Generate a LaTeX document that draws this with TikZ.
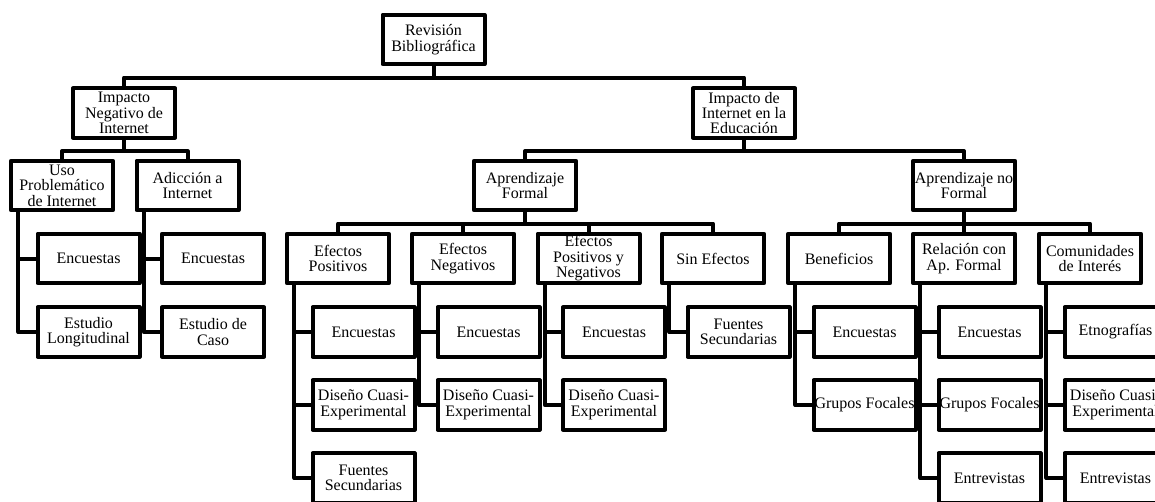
\documentclass[tikz,border=0pt]{standalone}
\usepackage{fontspec}
\setmainfont{Liberation Serif}

\begin{document}
\begin{tikzpicture}[x=0.75pt,y=-0.75pt,
	box/.style={draw, line width=3pt, line join=round, minimum width=76.5pt, minimum height=37pt, inner xsep=0pt, inner ysep=1pt, align=center, font=\fontsize{12}{11.6}\selectfont},
	link/.style={line width=3pt, line join=round}]
	\useasboundingbox (0,0) rectangle (1155,501);
	\clip (0,0) rectangle (1155,501);

	\node[box] (rev) at (433.5,39.5) {Revisión\\Bibliográfica};

	\node[box] (neg) at (124,113) {Impacto\\Negativo de\\Internet};
	\node[box] (edu) at (744,113) {Impacto de\\Internet en la\\Educación};

	\node[box] (uso) at (62,185.5) {Uso\\Problemático\\de Internet};
	\node[box] (adic) at (187.5,185.5) {Adicción a\\Internet};
	\node[box] (af) at (525,185.5) {Aprendizaje\\Formal};
	\node[box] (anf) at (964,185.5) {Aprendizaje no\\Formal};

	\node[box] (uso1) at (88.5,258.5) {Encuestas};
	\node[box] (uso2) at (88.5,332) {Estudio\\Longitudinal};
	\node[box] (adic1) at (213,258.5) {Encuestas};
	\node[box] (adic2) at (213,332) {Estudio de\\Caso};

	\node[box] (ep) at (338,258.5) {Efectos\\Positivos};
	\node[box] (en) at (463,258.5) {Efectos\\Negativos};
	\node[box] (epn) at (588.5,258.5) {Efectos\\Positivos y\\Negativos};
	\node[box] (se) at (713,258.5) {Sin Efectos};
	\node[box] (ben) at (839,258.5) {Beneficios};
	\node[box] (rel) at (964,258.5) {Relación con\\Ap. Formal};
	\node[box] (com) at (1090,258.5) {Comunidades\\de Interés};

	\node[box] (ep1) at (363.5,332) {Encuestas};
	\node[box] (ep2) at (363.5,405) {Diseño Cuasi-\\Experimental};
	\node[box] (ep3) at (363.5,478) {Fuentes\\Secundarias};
	\node[box] (en1) at (488.5,332) {Encuestas};
	\node[box] (en2) at (488.5,405) {Diseño Cuasi-\\Experimental};
	\node[box] (epn1) at (614,332) {Encuestas};
	\node[box] (epn2) at (614,405) {Diseño Cuasi-\\Experimental};
	\node[box] (se1) at (738.5,332) {Fuentes\\Secundarias};
	\node[box] (ben1) at (864.5,332) {Encuestas};
	\node[box] (ben2) at (864.5,405) {Grupos Focales};
	\node[box] (rel1) at (989.5,332) {Encuestas};
	\node[box] (rel2) at (989.5,405) {Grupos Focales};
	\node[box] (rel3) at (989.5,478) {Entrevistas};
	\node[box] (com1) at (1115.5,332) {Etnografías};
	\node[box] (com2) at (1115.5,405) {Diseño Cuasi-\\Experimental};
	\node[box] (com3) at (1115.5,478) {Entrevistas};

	% buses
	\draw[link] (rev.south) -- ++(0,11.5) -| (neg.north);
	\draw[link] (rev.south) -- ++(0,11.5) -| (edu.north);
	\draw[link] (neg.south) -- ++(0,11.5) -| (uso.north);
	\draw[link] (neg.south) -- ++(0,11.5) -| (adic.north);
	\draw[link] (edu.south) -- ++(0,11.5) -| (af.north);
	\draw[link] (edu.south) -- ++(0,11.5) -| (anf.north);
	\draw[link] (af.south) -- ++(0,11.5) -| (ep.north);
	\draw[link] (af.south) -- ++(0,11.5) -| (en.north);
	\draw[link] (af.south) -- ++(0,11.5) -| (epn.north);
	\draw[link] (af.south) -- ++(0,11.5) -| (se.north);
	\draw[link] (anf.south) -- ++(0,11.5) -| (ben.north);
	\draw[link] (anf.south) -- ++(0,11.5) -| (rel.north);
	\draw[link] (anf.south) -- ++(0,11.5) -| (com.north);

	% lists
	\draw[link] ([xshift=7pt]uso.south west) |- (uso1.west);
	\draw[link] ([xshift=7pt]uso.south west) |- (uso2.west);
	\draw[link] ([xshift=7pt]adic.south west) |- (adic1.west);
	\draw[link] ([xshift=7pt]adic.south west) |- (adic2.west);
	\draw[link] ([xshift=7pt]ep.south west) |- (ep1.west);
	\draw[link] ([xshift=7pt]ep.south west) |- (ep2.west);
	\draw[link] ([xshift=7pt]ep.south west) |- (ep3.west);
	\draw[link] ([xshift=7pt]en.south west) |- (en1.west);
	\draw[link] ([xshift=7pt]en.south west) |- (en2.west);
	\draw[link] ([xshift=7pt]epn.south west) |- (epn1.west);
	\draw[link] ([xshift=7pt]epn.south west) |- (epn2.west);
	\draw[link] ([xshift=7pt]se.south west) |- (se1.west);
	\draw[link] ([xshift=7pt]ben.south west) |- (ben1.west);
	\draw[link] ([xshift=7pt]ben.south west) |- (ben2.west);
	\draw[link] ([xshift=7pt]rel.south west) |- (rel1.west);
	\draw[link] ([xshift=7pt]rel.south west) |- (rel2.west);
	\draw[link] ([xshift=7pt]rel.south west) |- (rel3.west);
	\draw[link] ([xshift=7pt]com.south west) |- (com1.west);
	\draw[link] ([xshift=7pt]com.south west) |- (com2.west);
	\draw[link] ([xshift=7pt]com.south west) |- (com3.west);
\end{tikzpicture}
\end{document}
